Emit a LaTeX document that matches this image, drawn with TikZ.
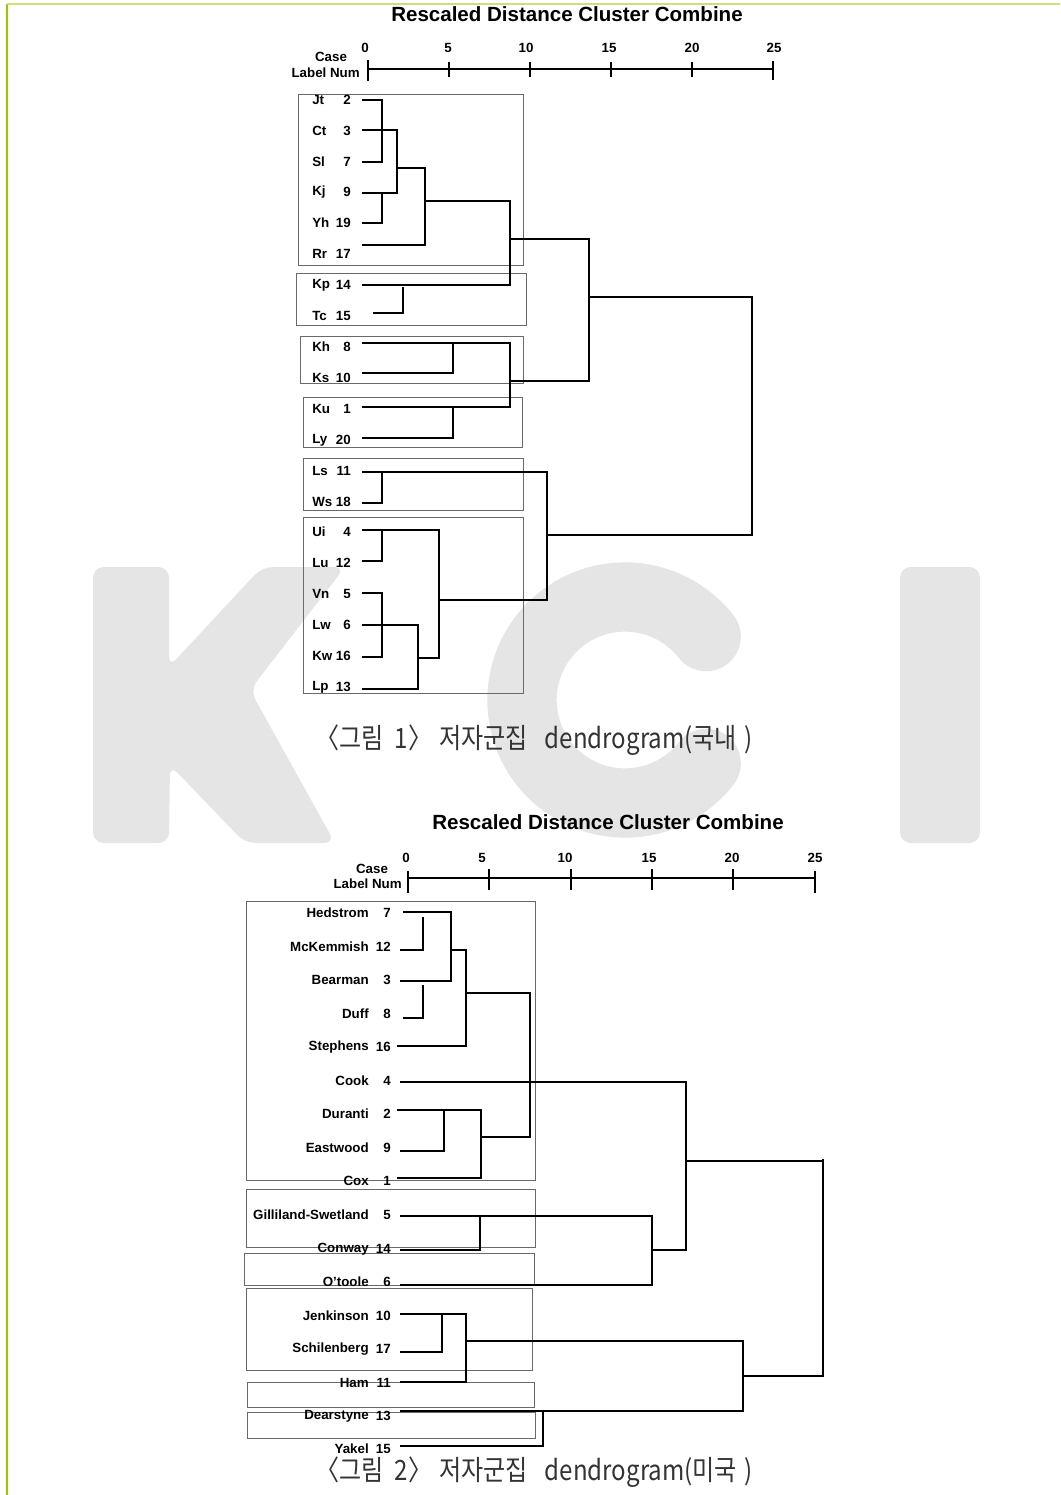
\documentclass[tikz,border=0pt]{standalone}
\usepackage{fontspec}
\setmainfont{Liberation Sans}
\newfontfamily\krfont{Noto Sans CJK KR}

\definecolor{kcigray}{RGB}{229,229,229}
\definecolor{framegreen}{RGB}{150,200,0}
\definecolor{framelight}{RGB}{200,226,120}
\definecolor{boxgray}{RGB}{105,105,105}

\tikzset{
    title/.style={font=\fontsize{15.4}{18}\selectfont\bfseries},
    lab/.style={font=\fontsize{10}{12}\selectfont\bfseries, inner sep=0pt},
    axisline/.style={line width=0.9pt},
    tickmark/.style={line width=1.2pt},
    clbox/.style={draw=boxgray, line width=0.7pt},
    linktop/.style={line width=1.5pt},
    linkbot/.style={line width=1.1pt},
    caption/.style={font=\krfont\fontsize{21}{24}\selectfont, text=black!80}
}

\begin{document}
\begin{tikzpicture}[
    x=0.75pt, y=-0.75pt,
    line cap=butt,
    line join=miter
]
\useasboundingbox (0,0) rectangle (1060,1495);

% Watermark KCI
\fill[kcigray, rounded corners=8] (93,567) -- (169,567) -- (169,667) -- (262,567)
    -- (345,567) -- (250,690) -- (335,843) -- (245,843) -- (170,765)
    -- (169,843) -- (93,843) -- cycle;
\draw[kcigray, line width=52pt, line cap=round]
    (625,700) ++(38:103) arc[start angle=38, end angle=322, radius=103];
\fill[kcigray, rounded corners=8] (900,567) rectangle (980,843);

% Page frame
\draw[framegreen, line width=1pt] (7,4) -- (7,1495);
\draw[framelight, line width=1.8pt] (7,4) -- (1060,4);

%%%%%%%%%%%%%%%% Figure 1 %%%%%%%%%%%%%%%%
\node[title] (title1) at (567,14) {Rescaled Distance Cluster Combine};

% Axis
\node[lab] (case1) at (331,57) {Case};
\node[lab, anchor=east] (num1) at (360,73) {Label Num};
\draw[axisline] (368,69) -- (773,69);
\draw[tickmark] (368,60) -- (368,81);
\draw[tickmark] (773,61) -- (773,80);
\foreach \x in {449,530,611,692}
    \draw[tickmark] (\x,62) -- (\x,77);
\foreach \x/\v in {365/0,448/5,526/10,609/15,692/20,774/25}
    \node[lab] at (\x,48) {\v};

% Boxes
\draw[clbox] (298,94) rectangle (523,265);
\draw[clbox] (296,273) rectangle (526,325);
\draw[clbox] (300,336) rectangle (523,383);
\draw[clbox] (303,397) rectangle (522,447);
\draw[clbox] (303,458) rectangle (523,510);
\draw[clbox] (303,517) rectangle (523,693);

% Case labels
\foreach \nm/\n/\y in {
    Jt/2/100, Ct/3/131, Sl/7/162, Kj/9/192, Yh/19/223,
    Rr/17/254, Kp/14/285, Tc/15/316, Kh/8/347, Ks/10/378,
    Ku/1/409, Ly/20/440, Ls/11/471, Ws/18/502, Ui/4/532,
    Lu/12/563, Vn/5/594, Lw/6/625, Kw/16/656, Lp/13/687
}{
    \node[lab, anchor=west] (ka\n) at (312,\y) {\nm};
    \node[lab, anchor=east] (kn\n) at (351,\y) {\n};
}

% Links
\draw[linktop] (362,100) -- (382,100) -- (382,162) -- (362,162);
\draw[linktop] (362,130) -- (397,130) -- (397,193) -- (362,193);
\draw[linktop] (382,193) -- (382,223) -- (362,223);
\draw[linktop] (397,168) -- (425,168) -- (425,245) -- (362,245);
\draw[linktop] (425,201) -- (510,201) -- (510,285) -- (362,285);
\draw[linktop] (403,287) -- (403,313) -- (373,313);
\draw[linktop] (510,239) -- (589,239) -- (589,381) -- (510,381);
\draw[linktop] (362,343) -- (510,343) -- (510,407) -- (362,407);
\draw[linktop] (453,343) -- (453,373) -- (362,373);
\draw[linktop] (453,407) -- (453,438) -- (362,438);
\draw[linktop] (589,297) -- (752,297) -- (752,535) -- (547,535);
\draw[linktop] (362,472) -- (547,472) -- (547,600) -- (439,600);
\draw[linktop] (382,472) -- (382,503) -- (362,503);
\draw[linktop] (362,530) -- (439,530) -- (439,658) -- (418,658);
\draw[linktop] (382,530) -- (382,561) -- (362,561);
\draw[linktop] (362,593) -- (382,593) -- (382,657) -- (362,657);
\draw[linktop] (362,625) -- (418,625) -- (418,689) -- (362,689);

\node[caption] (cap1) at (534,740)
    {\scalebox{0.86}[1]{〈그림\hspace{0.45em}1〉\hspace{0.3em}저자군집\hspace{0.7em}dendrogram(국내\hspace{0.3em})}};

%%%%%%%%%%%%%%%% Figure 2 %%%%%%%%%%%%%%%%
\node[title] (title2) at (608,822) {Rescaled Distance Cluster Combine};

% Axis
\node[lab] (case2) at (372,869) {Case};
\node[lab, anchor=east] (num2) at (402,884) {Label Num};
\draw[axisline] (408,878) -- (815,878);
\draw[tickmark] (408,871) -- (408,893);
\draw[tickmark] (815,871) -- (815,893);
\foreach \x in {489,571,652,733}
    \draw[tickmark] (\x,869) -- (\x,890);
\foreach \x/\v in {406/0,482/5,565/10,649/15,732/20,815/25}
    \node[lab] at (\x,858) {\v};

% Boxes
\draw[clbox] (246,901) rectangle (535,1180);
\draw[clbox] (246,1189) rectangle (535,1247);
\draw[clbox] (244,1253) rectangle (534,1285);
\draw[clbox] (246,1288) rectangle (532,1370);
\draw[clbox] (247,1382) rectangle (534,1407);
\draw[clbox] (247,1412) rectangle (535,1438);

% Case labels
\foreach \nm/\n/\y in {
    Hedstrom/7/913, McKemmish/12/947, Bearman/3/980, Duff/8/1014,
    Stephens/16/1047, Cook/4/1081, Duranti/2/1114, Eastwood/9/1148,
    Cox/1/1181, Gilliland-Swetland/5/1215, Conway/14/1249,
    O’toole/6/1282, Jenkinson/10/1316, Schilenberg/17/1349,
    Ham/11/1383, Dearstyne/13/1416, Yakel/15/1449
}{
    \node[lab, anchor=east] (au\n) at (369,\y) {\nm};
    \node[lab, anchor=east] (an\n) at (391,\y) {\n};
}

% Links
\draw[linkbot] (403,912) -- (451,912) -- (451,981) -- (400,981);
\draw[linkbot] (423,917) -- (423,950) -- (400,950);
\draw[linkbot] (423,985) -- (423,1018) -- (403,1018);
\draw[linkbot] (451,950) -- (466,950) -- (466,1046) -- (397,1046);
\draw[linkbot] (466,993) -- (530,993) -- (530,1137) -- (481,1137);
\draw[linkbot] (397,1110) -- (481,1110) -- (481,1178) -- (397,1178);
\draw[linkbot] (444,1110) -- (444,1151) -- (400,1151);
\draw[linkbot] (400,1082) -- (686,1082) -- (686,1250) -- (652,1250);
\draw[linkbot] (400,1216) -- (652,1216) -- (652,1285) -- (400,1285);
\draw[linkbot] (480,1216) -- (480,1250) -- (400,1250);
\draw[linkbot] (687,1161) -- (823,1161) -- (823,1376) -- (743,1376);
\draw[linkbot] (823,1159) -- (823,1161);
\draw[linkbot] (466,1341) -- (743,1341) -- (743,1411) -- (400,1411);
\draw[linkbot] (400,1314) -- (466,1314) -- (466,1382) -- (400,1382);
\draw[linkbot] (442,1314) -- (442,1352) -- (400,1352);
\draw[linkbot] (543,1411) -- (543,1446) -- (400,1446);

\node[caption] (cap2) at (534,1472)
    {\scalebox{0.86}[1]{〈그림\hspace{0.45em}2〉\hspace{0.3em}저자군집\hspace{0.7em}dendrogram(미국\hspace{0.3em})}};

\end{tikzpicture}
\end{document}
